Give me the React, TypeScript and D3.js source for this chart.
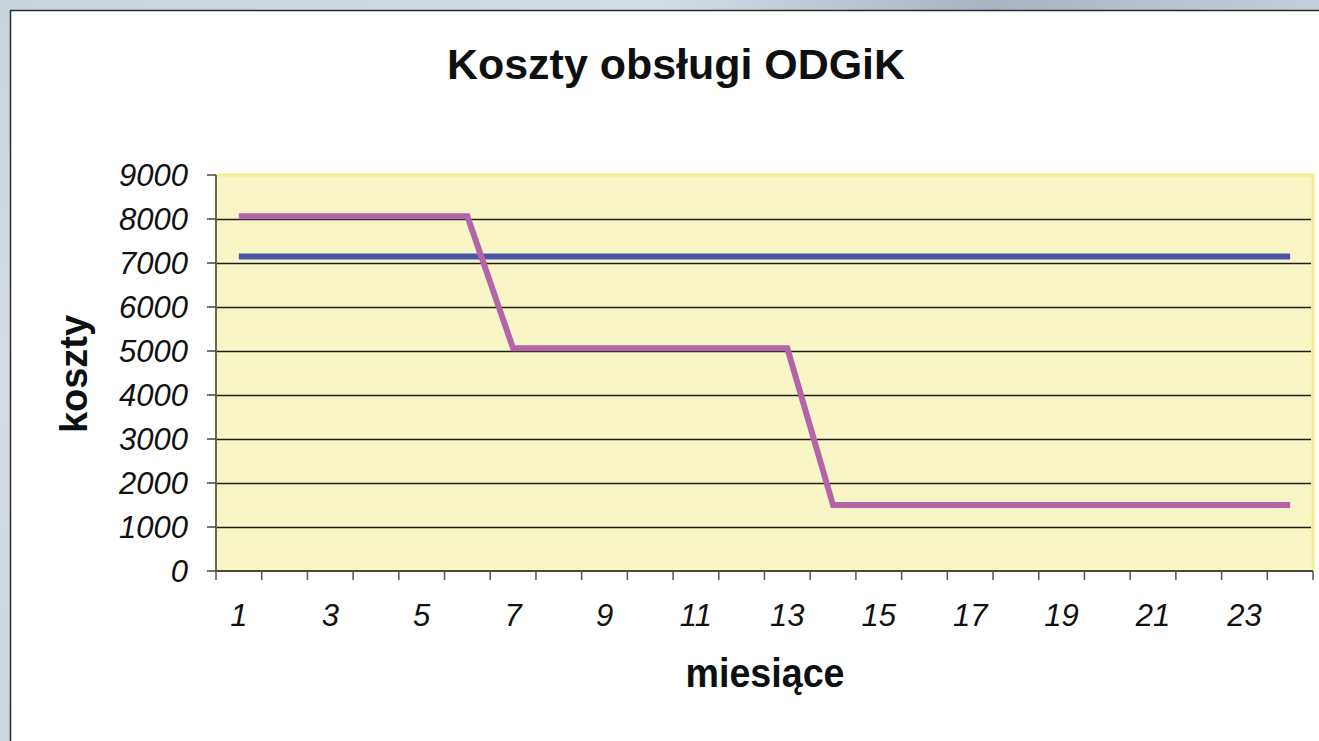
import React from 'react';
import * as d3 from 'd3';

const months: number[] = Array.from({ length: 24 }, (_, i) => i + 1);
const blueCosts = [
  7150, 7150, 7150, 7150, 7150, 7150, 7150, 7150, 7150, 7150, 7150, 7150,
  7150, 7150, 7150, 7150, 7150, 7150, 7150, 7150, 7150, 7150, 7150, 7150,
];
const pinkCosts = [
  8060, 8060, 8060, 8060, 8060, 8060, 5060, 5060, 5060, 5060, 5060, 5060,
  5060, 1500, 1500, 1500, 1500, 1500, 1500, 1500, 1500, 1500, 1500, 1500,
];
const yTicks = [0, 1000, 2000, 3000, 4000, 5000, 6000, 7000, 8000, 9000];
const xLabels = [1, 3, 5, 7, 9, 11, 13, 15, 17, 19, 21, 23];

const W = 1319;
const H = 741;
const plot = { left: 216, right: 1313, top: 175, bottom: 571 };

const App: React.FC = () => {
  const x = d3.scaleBand<number>().domain(months).range([plot.left, plot.right]).padding(0);
  const y = d3.scaleLinear().domain([0, 9000]).range([plot.bottom, plot.top]);
  const cx = (m: number) => (x(m) as number) + x.bandwidth() / 2;

  const line = d3.line<number>()
    .x((_, i) => cx(months[i]))
    .y(d => y(d));

  // tick marks sit on the category boundaries
  const boundaries = months.map(m => x(m) as number).concat(plot.right);

  const font = "'Liberation Sans', Arial, sans-serif";

  return (
    <svg width={W} height={H} style={{ position: 'absolute', left: 0, top: 0 }} fontFamily={font}>
      <defs>
        <linearGradient id="frameTop" x1="0" x2="1" y1="0" y2="0">
          <stop offset="0" stopColor="#c9d3dc" />
          <stop offset="0.5" stopColor="#d3dee8" />
          <stop offset="0.75" stopColor="#a9b3c4" />
          <stop offset="1" stopColor="#c5d0dc" />
        </linearGradient>
        <linearGradient id="frameLeft" x1="0" x2="0" y1="0" y2="1">
          <stop offset="0" stopColor="#c9d3dc" />
          <stop offset="0.5" stopColor="#d6dde6" />
          <stop offset="1" stopColor="#cdd6e0" />
        </linearGradient>
      </defs>

      {/* window frame */}
      <rect x={0} y={0} width={W} height={10} fill="url(#frameTop)" />
      <rect x={0} y={0} width={10} height={H} fill="url(#frameLeft)" />
      <rect x={10} y={10} width={W - 10} height={H - 10} fill="#fff" />
      <line x1={10} x2={W} y1={10.5} y2={10.5} stroke="#2b2b2b" strokeWidth={1.5} />
      <line x1={10.5} x2={10.5} y1={10} y2={H} stroke="#2b2b2b" strokeWidth={1.5} />

      {/* title */}
      <text x={676} y={79} textAnchor="middle" fontSize={42} fontWeight="bold" fill="#0d1010"
        textLength={458} lengthAdjust="spacingAndGlyphs">
        Koszty obsługi ODGiK
      </text>

      {/* plot area */}
      <rect x={plot.left} y={plot.top} width={plot.right - plot.left} height={plot.bottom - plot.top}
        fill="#f8f6c7" />
      <polyline points={`${plot.left},${plot.top} ${plot.right},${plot.top} ${plot.right},${plot.bottom}`}
        fill="none" stroke="#f5ee8c" strokeWidth={3} />

      {/* gridlines */}
      {yTicks.filter(t => t > 0 && t < 9000).map(t => (
        <line key={t} x1={plot.left} x2={plot.right - 2} y1={Math.round(y(t)) + 0.5} y2={Math.round(y(t)) + 0.5}
          stroke="#1e1e18" strokeWidth={1.3} />
      ))}

      {/* y axis */}
      <line x1={plot.left} x2={plot.left} y1={plot.top} y2={plot.bottom} stroke="#6b6a50" strokeWidth={2} />
      {yTicks.map(t => (
        <g key={t}>
          <line x1={plot.left - 9} x2={plot.left} y1={y(t)} y2={y(t)} stroke="#444" strokeWidth={1.5} />
          <text x={188} y={y(t) + 11} textAnchor="end" fontSize={31} fontStyle="italic" fill="#111">
            {t}
          </text>
        </g>
      ))}

      {/* x axis */}
      <line x1={plot.left} x2={plot.right} y1={plot.bottom} y2={plot.bottom} stroke="#4a4a3c" strokeWidth={2} />
      {boundaries.map((b, i) => (
        <line key={i} x1={b} x2={b} y1={plot.bottom} y2={plot.bottom + 9} stroke="#555" strokeWidth={1.5} />
      ))}
      {xLabels.map(m => (
        <text key={m} x={cx(m)} y={626} textAnchor="middle" fontSize={31} fontStyle="italic" fill="#111">
          {m}
        </text>
      ))}

      {/* series */}
      <path d={line(blueCosts) || ''} fill="none" stroke="#4a55a6" strokeWidth={6} />
      <path d={line(pinkCosts) || ''} fill="none" stroke="#b565a7" strokeWidth={6} strokeLinejoin="miter" />

      {/* axis titles */}
      <text x={765} y={687} textAnchor="middle" fontSize={40} fontWeight="bold" fill="#0d1010"
        textLength={159} lengthAdjust="spacingAndGlyphs">
        miesiące
      </text>
      <text transform="translate(87,374) rotate(-90)" textAnchor="middle" fontSize={38} fontWeight="bold"
        fill="#0d1010" textLength={118} lengthAdjust="spacingAndGlyphs">
        koszty
      </text>
    </svg>
  );
};

export default App;
